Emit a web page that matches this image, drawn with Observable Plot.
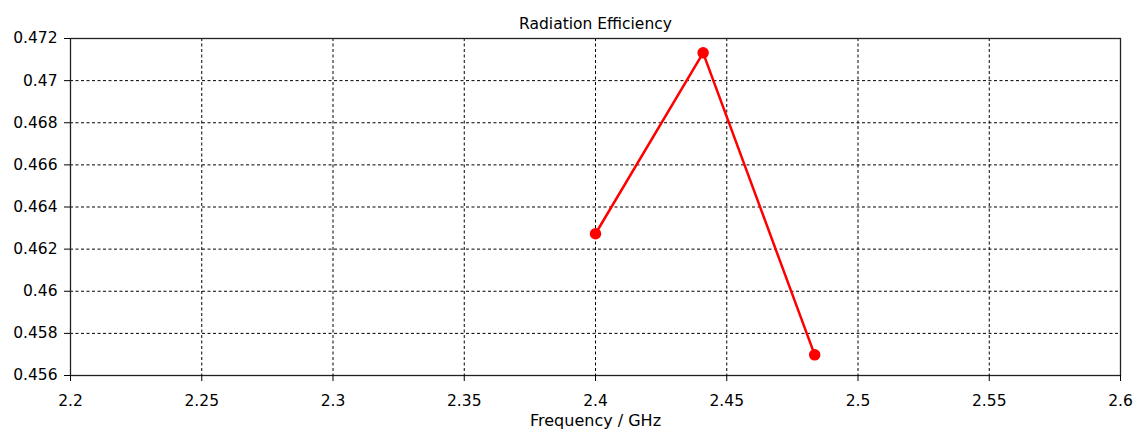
<!DOCTYPE html>
<html>
<head>
<meta charset="utf-8">
<script src="https://cdn.jsdelivr.net/npm/d3@7"></script>
<script src="https://cdn.jsdelivr.net/npm/@observablehq/plot@0.6"></script>
<style>
  html, body { margin: 0; padding: 0; background: #fff; }
  #chart svg { display: block; }
</style>
</head>
<body>
<div id="chart"></div>
<script>
const title = "Radiation Efficiency";
const xLabel = "Frequency / GHz";
const frequency = [2.4, 2.441, 2.4835];
const efficiency = [0.46273, 0.47132, 0.45698];
const xTicks = [2.2, 2.25, 2.3, 2.35, 2.4, 2.45, 2.5, 2.55, 2.6];
const yTicks = [0.456, 0.458, 0.46, 0.462, 0.464, 0.466, 0.468, 0.47, 0.472];

const data = frequency.map((f, i) => ({f, e: efficiency[i]}));
const fmt = d => String(+d.toFixed(4));
const font = "'DejaVu Sans', Verdana, sans-serif";

const chart = Plot.plot({
  width: 1141,
  height: 436,
  marginLeft: 70,
  marginRight: 21,
  marginTop: 38,
  marginBottom: 61,
  style: {fontFamily: font, fontSize: "15.5px", color: "#000", background: "#fff"},
  x: {domain: [2.2, 2.6]},
  y: {domain: [0.456, 0.472]},
  marks: [
    Plot.gridX(xTicks, {stroke: "#000", strokeOpacity: 1, strokeDasharray: "3,2.5", strokeWidth: 1}),
    Plot.gridY(yTicks, {stroke: "#000", strokeOpacity: 1, strokeDasharray: "3,2.5", strokeWidth: 1}),
    Plot.frame({stroke: "#222", strokeWidth: 1.3}),
    Plot.axisX(xTicks, {tickFormat: fmt, tickSize: 6, tickPadding: 13, label: null, stroke: "#000"}),
    Plot.axisY(yTicks, {tickFormat: fmt, tickSize: 6, tickPadding: 7, label: null, stroke: "#000"}),
    Plot.text([xLabel], {frameAnchor: "bottom", dy: 50, text: d => d, fontSize: 16, fill: "#000"}),
    Plot.text([title], {frameAnchor: "top", dy: -21, text: d => d, fontSize: 15.5, fill: "#000"}),
    Plot.line(data, {x: "f", y: "e", stroke: "#ff0000", strokeWidth: 2.5}),
    Plot.dot(data, {x: "f", y: "e", r: 5, fill: "#ff0000", stroke: "#ff0000"})
  ]
});
document.getElementById("chart").appendChild(chart);
</script>
</body>
</html>
